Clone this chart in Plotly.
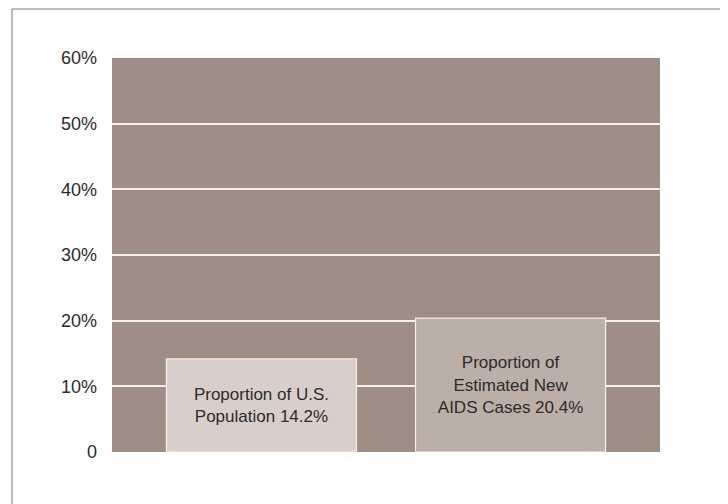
import plotly.graph_objects as go

categories = ["Proportion of U.S.<br>Population 14.2%", "Proportion of<br>Estimated New<br>AIDS Cases 20.4%"]
values = [14.2, 20.4]
bar_colors = ["#d8cfca", "#bbafa7"]
tick_vals = [0, 10, 20, 30, 40, 50, 60]
tick_text = ["0", "10%", "20%", "30%", "40%", "50%", "60%"]

FONT = "Liberation Sans, Arial, sans-serif"

# page has an 8px body offset; margins compensate so the plot area sits at x 112-660, y 58-452
L, R, T, B = 104, 76, 50, 60
W, H = 728, 504
PW, PH = W - L - R, H - T - B

fig = go.Figure()
fig.add_trace(go.Bar(
    x=[0, 1], y=values,
    width=0.763,
    marker=dict(color=bar_colors, line=dict(color="#f4f0ee", width=1.2)),
    text=categories,
    textposition="inside",
    insidetextanchor="middle",
    textangle=0,
    textfont=dict(family=FONT, size=17, color="#2e2b2a"),
    hoverinfo="skip",
))

fig.update_layout(
    width=W, height=H,
    margin=dict(l=L, r=R, t=T, b=B),
    paper_bgcolor="white",
    plot_bgcolor="#9d8d84",
    showlegend=False,
    font=dict(family=FONT, size=18, color="#2e2b2a"),
    xaxis=dict(range=[-0.6, 1.6], showticklabels=False, showgrid=False,
               zeroline=False, showline=False, ticks=""),
    yaxis=dict(range=[0, 60], tickvals=tick_vals, ticktext=tick_text,
               showgrid=True, gridcolor="#f4f0ee", gridwidth=1.5,
               zeroline=False, showline=False, ticks="", ticklabelstandoff=14),
    shapes=[
        dict(type="line", xref="paper", yref="paper",
             x0=(4 - L) / PW, x1=(W + 4 - L) / PW,
             y0=(H - B - 1) / PH, y1=(H - B - 1) / PH,
             line=dict(color="#b0a39b", width=1.5)),
        dict(type="line", xref="paper", yref="paper",
             x0=(4 - L) / PW, x1=(4 - L) / PW,
             y0=(H - B - 1) / PH, y1=(-B - 4) / PH,
             line=dict(color="#b0a39b", width=1.5)),
    ],
)

fig.write_html("out.html")
